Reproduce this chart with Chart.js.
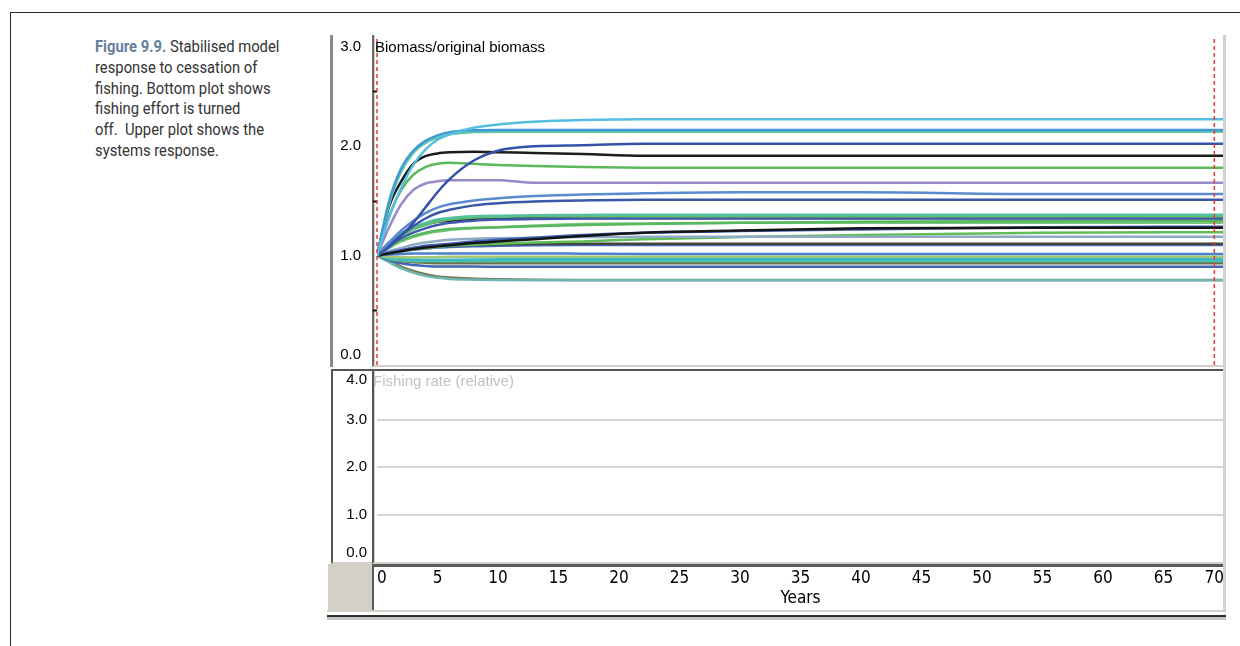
<!DOCTYPE html>
<html>
<head>
<meta charset="utf-8">
<script src="https://cdn.jsdelivr.net/npm/chart.js@4.4.1/dist/chart.umd.min.js"></script>
<style>
  html, body { margin:0; padding:0; background:#fff; }
  body { width:1240px; height:646px; position:relative; overflow:hidden; }
  .abs { position:absolute; box-sizing:border-box; }
  #frame { left:10px; top:12px; width:1240px; height:640px; border-top:1px solid #2a2a2a; border-left:1px solid #2a2a2a; }
  #caption { left:95px; top:36px; white-space:nowrap; font:17px Roboto, "Noto Sans", sans-serif; line-height:20.8px; color:#333;
             transform:scaleX(0.87); transform-origin:left top; }
  #caption b { color:#64809e; font-weight:700; }
  .cell { background:#fff; }
  #upLab { left:330px; top:35px; width:42px; height:332px; border-left:3px solid #8a8a8a; }
  #upPlot { left:372px; top:35px; width:852px; height:332px; border-left:2px solid #6a6a6a; box-shadow: inset 1px 0 0 #d4d0c8; border-bottom:2px solid #d4d0c8; }
  #loLab { left:331px; top:369px; width:41px; height:195px; border-left:2px solid #555; border-top:2px solid #555; border-bottom:2px solid #d4d0c8; }
  #loPlot { left:372px; top:369px; width:852px; height:195px; border-left:2px solid #555; border-top:2px solid #555; border-bottom:2px solid #d4d0c8; box-shadow: inset 1px 0 0 #d4d0c8; }
  #axGray { left:328px; top:564px; width:44px; height:46px; background:#d4d0c8; }
  #axRow { left:372px; top:564px; width:852px; height:46px; background:#fff; border-top:3px solid #5a5a5a; border-left:2px solid #5a5a5a; }
  #base1 { left:327px; top:610px; width:899px; height:2px; background:#d4d0c8; }
  #base2 { left:327px; top:615px; width:899px; height:2px; background:#2e2e2e; }
  #base3 { left:327px; top:617px; width:899px; height:3px; background:#c4c4c4; }
  #rightEdge { left:1223px; top:35px; width:3px; height:577px; background:#d0d0d0; z-index:3; }
  #rightPad { left:1226px; top:30px; width:14px; height:590px; background:#fff; z-index:3; }
  canvas { position:absolute; z-index:2; }
  #upper { left:328px; top:37px; }
  #lower { left:328px; top:372px; }
  .ttl { position:absolute; z-index:4; font:15px "Liberation Sans", Arial, sans-serif; white-space:nowrap; }
  #upTitle { left:375px; top:38px; color:#000; }
  #loTitle { left:373px; top:372px; color:#c2c2c2; }
</style>
</head>
<body>
<div id="frame" class="abs"></div>
<div id="caption" class="abs"><b>Figure 9.9.</b> Stabilised model<br>response to cessation of<br>fishing. Bottom plot shows<br>fishing effort is turned<br>off.&nbsp; Upper plot shows the<br>systems response.</div>

<div id="upLab" class="abs cell"></div>
<div id="upPlot" class="abs cell"></div>
<div id="loLab" class="abs cell"></div>
<div id="loPlot" class="abs cell"></div>
<div id="axGray" class="abs"></div>
<div id="axRow" class="abs"></div>
<div id="base1" class="abs"></div>
<div id="base2" class="abs"></div>
<div id="base3" class="abs"></div>
<div id="rightEdge" class="abs"></div>
<div id="rightPad" class="abs"></div>

<canvas id="upper" width="896" height="328"></canvas>
<canvas id="lower" width="902" height="238"></canvas>
<div id="upTitle" class="ttl">Biomass/original biomass</div>
<div id="loTitle" class="ttl">Fishing rate (relative)</div>

<script>
// simulation years shared by every group run
const years = [0, 1, 2, 3, 4, 5, 6, 8, 10, 13, 17, 22, 30, 40, 55, 70];

// biomass / original biomass for each functional group
const r01 = [1.00,1.35,1.62,1.83,1.97,2.06,2.11,2.17,2.20,2.225,2.24,2.247,2.247,2.247,2.247,2.247];
const r02 = [1.00,1.50,1.80,1.96,2.05,2.10,2.13,2.148,2.15,2.15,2.149,2.149,2.149,2.149,2.149,2.149];
const r03 = [1.00,1.47,1.77,1.94,2.03,2.08,2.11,2.13,2.134,2.134,2.134,2.134,2.134,2.134,2.134,2.134];
const r04 = [1.00,1.08,1.18,1.30,1.44,1.58,1.70,1.87,1.96,2.00,2.01,2.024,2.024,2.024,2.024,2.024];
const r05 = [1.00,1.45,1.68,1.84,1.91,1.935,1.945,1.95,1.945,1.94,1.93,1.915,1.915,1.915,1.915,1.915];
const r06 = [1.00,1.36,1.60,1.74,1.81,1.84,1.85,1.84,1.83,1.82,1.81,1.805,1.805,1.805,1.805,1.805];
const r07 = [1.00,1.26,1.47,1.60,1.66,1.68,1.69,1.69,1.69,1.668,1.668,1.668,1.668,1.668,1.668,1.668];
const r08 = [1.00,1.12,1.23,1.32,1.39,1.44,1.47,1.505,1.525,1.545,1.56,1.57,1.58,1.58,1.564,1.564];
const r09 = [1.00,1.10,1.19,1.27,1.34,1.39,1.42,1.46,1.48,1.495,1.505,1.512,1.512,1.512,1.512,1.512];
const r10 = [1.00,1.12,1.20,1.26,1.30,1.33,1.345,1.36,1.365,1.37,1.372,1.375,1.375,1.375,1.375,1.375];
const r11 = [1.00,1.10,1.18,1.24,1.28,1.31,1.33,1.35,1.355,1.36,1.36,1.36,1.36,1.36,1.36,1.36];
const r12 = [1.00,1.09,1.16,1.21,1.25,1.28,1.30,1.32,1.33,1.335,1.34,1.342,1.342,1.342,1.342,1.342];
const r13 = [1.00,1.12,1.20,1.26,1.29,1.31,1.32,1.335,1.345,1.35,1.345,1.342,1.342,1.342,1.342,1.342];
const r14 = [1.00,1.08,1.14,1.18,1.21,1.23,1.245,1.255,1.26,1.27,1.28,1.29,1.30,1.31,1.315,1.32];
const r15 = [1.00,1.07,1.13,1.17,1.20,1.22,1.235,1.25,1.26,1.275,1.29,1.295,1.30,1.30,1.30,1.30];
const r16 = [1.00,1.02,1.04,1.06,1.075,1.085,1.095,1.115,1.13,1.15,1.18,1.21,1.23,1.25,1.255,1.255];
const r17 = [1.00,1.03,1.05,1.07,1.09,1.10,1.11,1.13,1.145,1.165,1.19,1.21,1.225,1.24,1.26,1.265];
const r18 = [1.00,1.04,1.07,1.10,1.12,1.135,1.145,1.155,1.16,1.165,1.17,1.172,1.174,1.174,1.174,1.174];
const r19 = [1.00,1.02,1.04,1.06,1.07,1.08,1.09,1.10,1.11,1.12,1.13,1.15,1.17,1.19,1.21,1.214];
const r20 = [1.00,1.03,1.05,1.07,1.08,1.09,1.095,1.10,1.105,1.108,1.11,1.11,1.11,1.11,1.11,1.11];
const r21 = [1.00,1.02,1.04,1.055,1.065,1.075,1.08,1.085,1.09,1.095,1.097,1.098,1.098,1.098,1.098,1.098];
const r22 = [1.00,1.01,1.015,1.02,1.02,1.02,1.02,1.02,1.02,1.02,1.018,1.015,1.015,1.015,1.015,1.015];
const r23 = [1.00,0.99,0.985,0.985,0.985,0.987,0.99,0.99,0.99,0.99,0.99,0.99,0.99,0.99,0.99,0.99];
const r24 = [1.00,0.98,0.97,0.965,0.962,0.962,0.963,0.965,0.967,0.967,0.967,0.967,0.967,0.967,0.967,0.967];
const r25 = [1.00,0.97,0.955,0.95,0.95,0.95,0.95,0.95,0.95,0.95,0.95,0.95,0.95,0.95,0.95,0.95];
const r26 = [1.00,0.97,0.95,0.94,0.935,0.93,0.93,0.93,0.93,0.93,0.93,0.93,0.93,0.93,0.93,0.93];
const r27 = [1.00,0.96,0.93,0.915,0.905,0.90,0.90,0.90,0.899,0.899,0.899,0.899,0.899,0.899,0.899,0.899];
const r28 = [1.00,0.94,0.885,0.845,0.815,0.797,0.787,0.78,0.777,0.775,0.775,0.775,0.775,0.775,0.775,0.775];
const r29 = [1.00,0.95,0.90,0.86,0.83,0.81,0.80,0.79,0.784,0.78,0.778,0.777,0.777,0.777,0.777,0.777];

const runs = [r01,r02,r03,r04,r05,r06,r07,r08,r09,r10,r11,r12,r13,r14,r15,r16,r17,r18,r19,r20,r21,r22,r23,r24,r25,r26,r27,r28,r29];
const runColors = ['#56bde3','#3f9ad6','#62c6aa','#3552a8','#1c1c1c','#5cb85c','#9a88c8','#5a8ad0','#3a58a8','#55c0a0',
  '#64bb6c','#3d5ab0','#222222','#58b860','#7cc67c','#141414','#3c5cb4','#8eaac4','#62bc58','#44453a',
  '#4766b8','#4a80cc','#a6c874','#3ab8cc','#50c0a0','#6e6e48','#3f64b8','#70b4b4','#787850'];

// start and end of the run, shown as red dashed markers
const markerYears = [0, 69.2];

const biomassTicks = [0, 1, 2, 3];
const fishingTicks = [0, 1, 2, 3, 4];

const axisFont = '"Liberation Sans Narrow", "DejaVu Sans Condensed", "Arial Narrow", sans-serif';

// y labels drawn at the scale's tick pixels, kept inside the plot box at the ends
const sideLabels = {
  id: 'sideLabels',
  afterDraw(chart, args, opts) {
    const {ctx, chartArea} = chart;
    const y = chart.scales.y;
    ctx.save();
    ctx.font = '15px "Liberation Sans", Arial, sans-serif';
    ctx.fillStyle = '#000';
    ctx.textAlign = 'right';
    ctx.textBaseline = 'middle';
    opts.values.forEach(v => {
      let py = y.getPixelForValue(v);
      py = Math.min(Math.max(py, chartArea.top + opts.top), chartArea.bottom - opts.bottom);
      ctx.fillText(v.toFixed(1), opts.x, py);
    });
    ctx.restore();
  }
};

let sets = markerYears.map(t => ({
  data: [{x:t, y:0}, {x:t, y:3}],
  borderColor: '#e5393b', borderWidth: 1.5, borderDash: [4, 3],
  tension: 0, cubicInterpolationMode: 'default', clip: 4
}));
runs.forEach((r, i) => {
  sets.push({
    data: years.map((t, j) => ({x:t, y:r[j]})),
    borderColor: runColors[i], borderWidth: 2.5
  });
});

new Chart(document.getElementById('upper'), {
  type: 'line',
  data: {datasets: sets},
  options: {
    responsive: false, animation: false, devicePixelRatio: 1,
    layout: {padding: 0},
    elements: {point: {radius: 0}, line: {cubicInterpolationMode: 'monotone'}},
    plugins: {legend: {display: false}, tooltip: {enabled: false},
      sideLabels: {values: biomassTicks, x: 33, top: 10, bottom: 10}},
    scales: {
      x: {type: 'linear', min: 0, max: 70, display: false},
      y: {
        min: 0, max: 3,
        ticks: {stepSize: 0.5, display: false},
        grid: {drawOnChartArea: false, drawTicks: true, tickLength: 4, tickWidth: 2,
          tickColor: c => (c.tick && c.tick.value % 1) ? '#111' : 'rgba(0,0,0,0)'},
        border: {display: false},
        afterFit: s => { s.width = 49; }
      }
    }
  },
  plugins: [sideLabels]
});

new Chart(document.getElementById('lower'), {
  type: 'line',
  data: {datasets: []},
  options: {
    responsive: false, animation: false, devicePixelRatio: 1,
    layout: {padding: 0},
    plugins: {legend: {display: false}, tooltip: {enabled: false},
      sideLabels: {values: fishingTicks, x: 39, top: 8, bottom: 9}},
    scales: {
      x: {
        type: 'linear', min: 0, max: 70,
        ticks: {stepSize: 5, align: 'inner', autoSkip: false, maxRotation: 0, padding: 6,
          color: '#000', font: {family: axisFont, size: 17}},
        grid: {display: false, drawTicks: false},
        border: {display: false},
        title: {display: true, text: 'Years', color: '#000', font: {family: axisFont, size: 17}, padding: {top: 0, bottom: 1}},
        afterFit: s => { s.height = 48; }
      },
      y: {
        min: 0, max: 4,
        ticks: {stepSize: 1, display: false},
        grid: {drawTicks: false, lineWidth: 2,
          color: c => (c.tick && c.tick.value > 0 && c.tick.value < 4) ? '#d6d6d6' : 'rgba(0,0,0,0)'},
        border: {display: false},
        afterFit: s => { s.width = 49; }
      }
    }
  },
  plugins: [sideLabels]
});
</script>
</body>
</html>
